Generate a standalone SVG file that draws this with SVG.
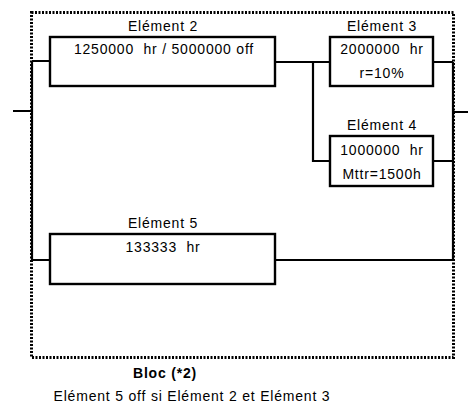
<svg xmlns="http://www.w3.org/2000/svg" width="468" height="403" viewBox="0 0 468 403">
<style>
.box{fill:#fff;stroke:#000;stroke-width:2.4}
.ln{fill:none;stroke:#000;stroke-width:2.2}
.dot{fill:none;stroke:#000;stroke-width:3;stroke-dasharray:2 1.5}
text{font-family:"Liberation Sans",Arial,sans-serif;font-size:14px;letter-spacing:0.8px;fill:#000;text-anchor:middle;white-space:pre}
.b{font-weight:bold}
</style>
<rect width="468" height="403" fill="#fff"/>
<rect id="bloc" class="dot" x="31.5" y="12.5" width="422" height="345"/>
<g id="connectors">
<path class="ln" d="M13,111 H32 M32,61 V260 M32,61 H50 M32,260 H50"/>
<path class="ln" d="M275,62 H330 M313,62 V161 H330"/>
<path class="ln" d="M433,62 H453 M433,161 H453 M275,260 H453 M453,62 V260 M453,112 H468"/>
</g>
<g id="element2">
<rect class="box" x="50" y="37" width="225" height="49"/>
<text x="163" y="31">Elément 2</text>
<text x="164" y="54" xml:space="preserve">1250000  hr / 5000000 off</text>
</g>
<g id="element3">
<rect class="box" x="330" y="37" width="103" height="49"/>
<text x="382" y="31">Elément 3</text>
<text x="382" y="54" xml:space="preserve">2000000  hr</text>
<text x="382" y="78">r=10%</text>
</g>
<g id="element4">
<rect class="box" x="330" y="136" width="103" height="50"/>
<text x="382" y="130">Elément 4</text>
<text x="382" y="155" xml:space="preserve">1000000  hr</text>
<text x="382" y="179">Mttr=1500h</text>
</g>
<g id="element5">
<rect class="box" x="50" y="234" width="225" height="50"/>
<text x="163" y="228">Elément 5</text>
<text x="163" y="252" xml:space="preserve">133333  hr</text>
</g>
<text class="b" x="165" y="378">Bloc (*2)</text>
<text x="192" y="401">Elément 5 off si Elément 2 et Elément 3</text>
</svg>
